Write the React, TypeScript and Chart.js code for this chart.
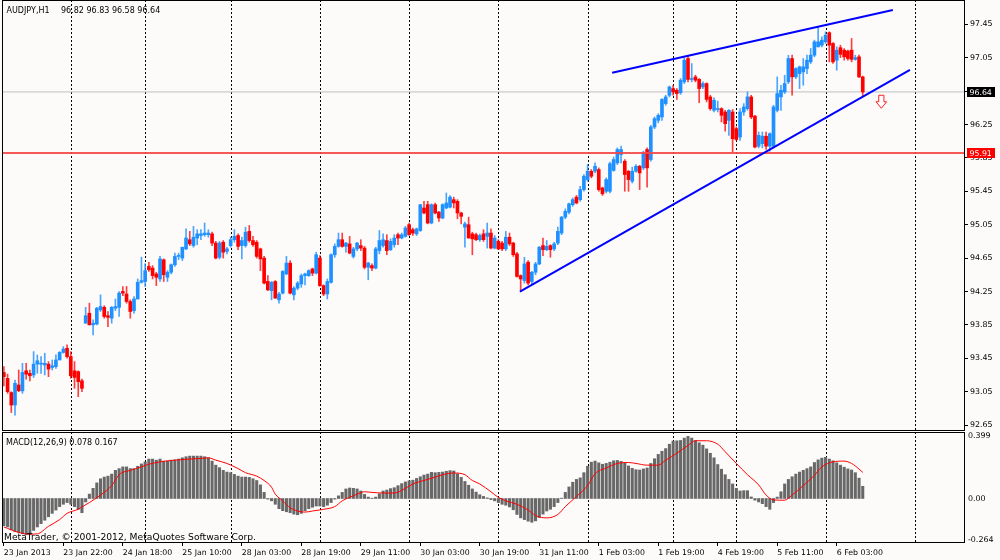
import React, { useEffect, useRef } from 'react';
import { Chart, registerables } from 'chart.js';
Chart.register(...registerables);

const symbolName = 'AUDJPY,H1';

const openP = [
93.28,93.21,93.04,92.89,93.13,93.06,93.30,93.27,93.25,93.38,
93.38,93.37,93.38,93.34,93.35,93.43,93.52,93.57,93.47,93.30,
93.29,93.18,93.87,93.99,93.85,93.86,94.03,94.06,93.96,93.93,
94.05,94.06,94.25,94.22,94.13,94.02,94.16,94.36,94.37,94.55,
94.53,94.46,94.40,94.63,94.42,94.48,94.57,94.67,94.65,94.76,
94.87,94.80,94.89,94.92,94.93,94.93,94.94,94.83,94.66,94.84,
94.73,94.80,94.87,94.92,94.80,94.80,94.97,94.86,94.84,94.76,
94.65,94.37,94.26,94.37,94.15,94.23,94.46,94.59,94.21,94.29,
94.34,94.44,94.44,94.52,94.47,94.65,94.32,94.22,94.36,94.69,
94.79,94.87,94.79,94.82,94.67,94.76,94.80,94.77,94.54,94.56,
94.53,94.74,94.80,94.86,94.75,94.81,94.93,94.89,94.91,95.05,
94.99,94.94,94.98,95.25,95.29,95.07,95.29,95.20,95.13,95.25,
95.26,95.35,95.33,95.19,95.02,95.05,94.94,94.93,94.87,94.94,
94.91,94.95,94.77,94.85,94.83,94.76,94.90,94.83,94.70,94.44,
94.38,94.60,94.37,94.48,94.58,94.80,94.75,94.80,94.76,94.83,
94.95,95.14,95.20,95.29,95.38,95.35,95.47,95.59,95.69,95.69,
95.71,95.49,95.45,95.45,95.70,95.79,95.89,95.81,95.69,95.57,
95.69,95.75,95.73,95.95,95.83,96.22,96.30,96.34,96.50,96.60,
96.68,96.66,96.63,96.76,97.04,96.79,96.82,96.79,96.70,96.74,
96.58,96.42,96.43,96.44,96.40,96.30,96.40,96.20,96.10,96.40,
96.44,96.58,96.35,95.99,96.02,96.11,95.99,95.99,96.42,96.58,
96.64,96.76,97.04,96.82,96.86,96.88,96.92,97.00,97.08,97.18,
97.20,97.24,97.35,97.22,97.02,97.17,97.14,97.13,97.14,97.03,
97.06,96.82
];

const highP = [
93.35,93.26,93.05,93.19,93.31,93.39,93.39,93.31,93.53,93.49,
93.47,93.51,93.41,93.43,93.49,93.53,93.59,93.61,93.53,93.41,
93.30,93.20,94.06,94.11,93.91,94.06,94.21,94.08,94.01,94.07,
94.16,94.25,94.31,94.31,94.15,94.19,94.40,94.66,94.58,94.60,
94.56,94.48,94.67,94.64,94.50,94.58,94.71,94.71,94.78,95.00,
94.97,95.03,94.99,94.99,95.07,94.99,94.96,94.85,94.85,94.86,
94.78,94.90,94.99,94.94,94.90,95.02,95.04,94.91,94.86,94.77,
94.67,94.44,94.37,94.38,94.24,94.50,94.67,94.62,94.31,94.37,
94.46,94.47,94.51,94.53,94.72,94.68,94.33,94.40,94.70,94.82,
94.95,94.95,94.84,94.91,94.78,94.84,94.87,94.79,94.60,94.58,
94.78,94.98,94.94,94.93,94.88,94.93,94.95,94.95,95.03,95.07,
95.01,95.01,95.29,95.33,95.33,95.30,95.31,95.21,95.30,95.43,
95.40,95.38,95.35,95.20,95.08,95.14,94.96,94.95,94.94,94.99,
95.07,95.00,94.92,94.87,94.85,94.97,94.95,94.84,94.72,94.45,
94.66,94.62,94.49,94.60,94.79,94.89,94.86,94.81,94.84,95.02,
95.15,95.24,95.31,95.37,95.40,95.51,95.65,95.77,95.71,95.79,
95.73,95.50,95.61,95.80,95.86,95.97,95.99,95.83,95.70,95.74,
95.77,95.76,95.93,95.97,96.24,96.34,96.38,96.56,96.60,96.71,
96.72,96.68,96.80,97.05,97.07,96.98,96.84,96.80,96.76,96.75,
96.60,96.57,96.53,96.45,96.42,96.43,96.43,96.22,96.44,96.50,
96.64,96.60,96.36,96.16,96.16,96.16,96.15,96.48,96.82,96.72,
96.84,97.08,97.08,96.93,96.95,97.04,97.08,97.16,97.26,97.42,
97.30,97.36,97.36,97.23,97.18,97.20,97.16,97.14,97.28,97.08,
97.08,96.83
];

const lowP = [
93.12,93.03,92.80,92.77,93.05,93.03,93.20,93.18,93.22,93.27,
93.27,93.25,93.23,93.31,93.33,93.43,93.51,93.45,93.21,93.09,
92.99,93.05,93.87,93.85,93.73,93.85,94.01,93.93,93.83,93.87,
94.02,93.95,94.20,94.11,93.93,93.99,94.16,94.35,94.31,94.49,
94.40,94.32,94.37,94.37,94.37,94.46,94.55,94.63,94.62,94.75,
94.80,94.78,94.81,94.87,94.91,94.90,94.80,94.64,94.64,94.65,
94.70,94.78,94.84,94.75,94.64,94.78,94.84,94.79,94.65,94.50,
94.34,94.26,94.15,94.17,94.11,94.22,94.45,94.22,94.15,94.27,
94.30,94.33,94.43,94.44,94.46,94.31,94.20,94.16,94.35,94.66,
94.78,94.78,94.72,94.70,94.65,94.74,94.74,94.52,94.39,94.50,
94.52,94.70,94.78,94.69,94.74,94.78,94.81,94.88,94.90,94.92,
94.92,94.92,94.97,95.18,95.06,95.06,95.18,95.09,95.12,95.24,
95.25,95.25,95.12,95.06,94.78,94.89,94.69,94.86,94.85,94.85,
94.77,94.76,94.76,94.75,94.74,94.74,94.80,94.67,94.42,94.25,
94.35,94.33,94.34,94.45,94.57,94.68,94.74,94.66,94.74,94.81,
94.93,95.12,95.18,95.27,95.30,95.33,95.45,95.57,95.61,95.67,
95.45,95.40,95.43,95.43,95.69,95.77,95.79,95.45,95.45,95.55,
95.68,95.47,95.71,95.50,95.81,96.20,96.27,96.30,96.48,96.58,
96.60,96.55,96.61,96.74,96.76,96.76,96.76,96.51,96.68,96.52,
96.42,96.40,96.40,96.28,96.17,96.12,95.92,96.06,96.06,96.36,
96.42,96.32,95.97,95.97,95.97,95.95,95.93,95.97,96.40,96.42,
96.62,96.74,96.60,96.80,96.68,96.72,96.86,96.98,97.06,97.18,
97.18,97.22,97.00,96.98,96.90,97.05,97.02,97.02,97.00,97.02,
96.81,96.58
];

const closeP = [
93.23,93.05,92.89,93.15,93.06,93.28,93.26,93.24,93.38,93.42,
93.39,93.39,93.32,93.36,93.43,93.52,93.56,93.47,93.24,93.22,
93.17,93.09,93.96,93.85,93.87,94.05,94.07,93.95,93.94,94.06,
94.07,94.23,94.23,94.13,94.01,94.16,94.36,94.38,94.50,94.51,
94.44,94.42,94.64,94.45,94.48,94.57,94.67,94.68,94.78,94.89,
94.82,94.90,94.94,94.94,94.95,94.95,94.83,94.65,94.83,94.72,
94.76,94.87,94.91,94.79,94.86,94.96,94.86,94.81,94.67,94.64,
94.35,94.27,94.36,94.17,94.22,94.49,94.59,94.23,94.29,94.35,
94.44,94.46,94.50,94.47,94.69,94.32,94.22,94.37,94.69,94.79,
94.87,94.79,94.83,94.71,94.76,94.83,94.77,94.54,94.59,94.53,
94.76,94.86,94.87,94.74,94.85,94.89,94.89,94.93,95.01,94.93,
94.95,95.00,95.29,95.19,95.07,95.29,95.19,95.13,95.29,95.31,
95.38,95.31,95.19,95.15,95.06,94.89,94.88,94.87,94.92,94.87,
94.95,94.77,94.89,94.76,94.76,94.90,94.82,94.69,94.43,94.40,
94.58,94.35,94.48,94.58,94.78,94.75,94.79,94.75,94.82,94.97,
95.14,95.21,95.30,95.35,95.31,95.47,95.63,95.69,95.63,95.75,
95.47,95.42,95.59,95.78,95.83,95.95,95.95,95.65,95.59,95.69,
95.75,95.67,95.91,95.73,96.22,96.32,96.36,96.55,96.58,96.70,
96.64,96.62,96.78,97.02,96.79,96.80,96.78,96.68,96.74,96.55,
96.44,96.54,96.44,96.36,96.26,96.42,96.08,96.07,96.40,96.46,
96.58,96.34,95.98,96.12,96.11,95.99,96.14,96.46,96.62,96.66,
96.74,97.04,96.82,96.92,96.94,96.94,97.02,97.08,97.24,97.24,
97.26,97.32,97.20,97.00,97.14,97.09,97.06,97.04,97.03,97.05,
96.82,96.64
];

const macdHist = [
-0.174,-0.182,-0.200,-0.211,-0.217,-0.226,-0.232,-0.232,-0.204,-0.182,
-0.161,-0.139,-0.117,-0.095,-0.074,-0.052,-0.037,-0.026,-0.037,-0.052,
-0.069,-0.091,-0.022,0.028,0.065,0.100,0.126,0.137,0.143,0.156,
0.180,0.191,0.202,0.202,0.191,0.191,0.206,0.221,0.234,0.252,
0.252,0.245,0.252,0.239,0.239,0.245,0.247,0.252,0.260,0.267,
0.271,0.271,0.271,0.271,0.267,0.260,0.239,0.213,0.197,0.180,
0.169,0.165,0.154,0.143,0.137,0.137,0.135,0.126,0.115,0.087,
0.039,-0.004,-0.015,-0.037,-0.065,-0.078,-0.085,-0.091,-0.100,-0.104,
-0.095,-0.078,-0.065,-0.056,-0.048,-0.048,-0.052,-0.043,-0.026,-0.004,
0.017,0.039,0.061,0.067,0.065,0.061,0.048,0.026,0.009,0.002,
0.009,0.030,0.048,0.054,0.063,0.069,0.082,0.095,0.106,0.113,
0.117,0.128,0.139,0.150,0.156,0.167,0.165,0.167,0.169,0.174,
0.178,0.176,0.158,0.135,0.109,0.085,0.061,0.041,0.024,0.013,
0.004,-0.007,-0.015,-0.026,-0.037,-0.043,-0.054,-0.072,-0.102,-0.124,
-0.135,-0.145,-0.152,-0.143,-0.122,-0.100,-0.080,-0.069,-0.052,-0.026,
0.002,0.039,0.074,0.104,0.122,0.132,0.165,0.206,0.232,0.239,
0.228,0.219,0.224,0.232,0.241,0.243,0.237,0.226,0.208,0.193,
0.184,0.182,0.189,0.195,0.224,0.254,0.282,0.302,0.319,0.347,
0.367,0.369,0.371,0.386,0.397,0.386,0.371,0.356,0.341,0.317,
0.289,0.260,0.217,0.187,0.152,0.122,0.093,0.065,0.048,0.050,
0.050,0.010,-0.011,-0.022,-0.033,-0.052,-0.069,-0.026,0.009,0.043,
0.093,0.122,0.139,0.156,0.169,0.180,0.191,0.202,0.230,0.247,
0.258,0.263,0.252,0.241,0.228,0.213,0.200,0.189,0.182,0.165,
0.130,0.078
];

const signalBars = [
0,4,7,9,12,15,17,20,21,23,26,29,31,34,37,39,42,45,47,50,
53,55,57,60,63,65,68,70,72,73,75,77,79,81,83,86,89,91,94,97,
99,102,105,108,110,113,116,118,121,124,126,128,131,133,135,138,141,143,146,149,
151,154,157,159,162,165,168,170,173,176,178,181,184,186,189,192,194,197,200,203,
205,207,210,212,215,218,220,223,226,228,229,231
];
const signalValues = [
-0.182,-0.217,-0.228,-0.226,-0.178,-0.135,-0.095,-0.069,-0.054,-0.026,0.022,0.082,0.152,0.180,0.202,0.219,0.234,0.243,0.247,0.252,
0.256,0.260,0.245,0.224,0.191,0.165,0.143,0.115,0.072,0.028,-0.015,-0.059,-0.080,-0.087,-0.080,-0.069,-0.052,-0.015,0.017,0.043,
0.039,0.035,0.035,0.065,0.093,0.115,0.137,0.152,0.163,0.152,0.115,0.093,0.043,0.007,-0.015,-0.037,-0.074,-0.109,-0.124,-0.102,
-0.052,0.013,0.082,0.158,0.195,0.224,0.230,0.224,0.213,0.213,0.245,0.289,0.339,0.369,0.369,0.347,0.299,0.224,0.152,0.087,
0.022,-0.009,-0.011,0.022,0.082,0.148,0.202,0.234,0.239,0.224,0.208,0.167
];

const timeLabelBars = [0, 16, 32, 48, 64, 80, 96, 112, 128, 144, 160, 176, 192, 208, 224];
const timeLabels = ['23 Jan 2013', '23 Jan 22:00', '24 Jan 18:00', '25 Jan 10:00', '28 Jan 03:00', '28 Jan 19:00', '29 Jan 11:00', '30 Jan 03:00', '30 Jan 19:00', '31 Jan 11:00', '1 Feb 03:00', '1 Feb 19:00', '4 Feb 19:00', '5 Feb 11:00', '6 Feb 03:00'];
const daySeparatorBars = [18, 38, 61, 85, 109, 133, 157, 180, 197, 221, 245];

const priceTicks = [97.45, 97.05, 96.65, 96.25, 95.85, 95.45, 95.05, 94.65, 94.25, 93.85, 93.45, 93.05, 92.65];
const macdTicks = [0.399, 0, -0.264];

// trend lines: [bar, price] endpoints
const lowerTrendBars = [138.8, 243.7];
const lowerTrendPrices = [94.248, 96.903];
const upperTrendBars = [163.6, 239.1];
const upperTrendPrices = [96.870, 97.621];
const resistanceLevel = 95.91;
const sellArrowBar = 236;
const sellArrowPrice = 96.60;

const X_MIN = -0.5;
const X_MAX = 258.5;
const PRICE_MIN = 92.579;
const PRICE_MAX = 97.741;
const MACD_MIN = -0.2845;
const MACD_MAX = 0.425;

const FONT = '"DejaVu Sans", sans-serif';
const BG = '#FDFBFA';

const separatorPlugin = {
  id: 'daySeparators',
  beforeDatasetsDraw(chart: any) {
    const { ctx, chartArea, scales } = chart;
    ctx.save();
    ctx.strokeStyle = '#000';
    ctx.lineWidth = 1;
    ctx.setLineDash([2, 2]);
    for (const b of daySeparatorBars) {
      const x = Math.round(scales.x.getPixelForValue(b)) + 0.5;
      ctx.beginPath();
      ctx.moveTo(x, chartArea.top);
      ctx.lineTo(x, chartArea.bottom);
      ctx.stroke();
    }
    ctx.restore();
  },
};

const framePlugin = {
  id: 'frame',
  afterDraw(chart: any) {
    const { ctx, chartArea } = chart;
    ctx.save();
    ctx.strokeStyle = '#000';
    ctx.lineWidth = 1;
    const l = Math.round(chartArea.left) + 0.5;
    const t = Math.round(chartArea.top) + 0.5;
    const r = Math.round(chartArea.right) - 0.5;
    const b = Math.round(chartArea.bottom) - 0.5;
    ctx.strokeRect(l, t, r - l, b - t);
    ctx.restore();
  },
};

const mainOverlay = {
  id: 'mainOverlay',
  afterDatasetsDraw(chart: any) {
    const { ctx, scales } = chart;
    const x = scales.x.getPixelForValue(sellArrowBar);
    const y = scales.y.getPixelForValue(sellArrowPrice);
    ctx.save();
    ctx.beginPath();
    ctx.moveTo(x - 2.6, y);
    ctx.lineTo(x + 2.6, y);
    ctx.lineTo(x + 2.6, y + 6.5);
    ctx.lineTo(x + 5.3, y + 6.5);
    ctx.lineTo(x, y + 13);
    ctx.lineTo(x - 5.3, y + 6.5);
    ctx.lineTo(x - 2.6, y + 6.5);
    ctx.closePath();
    ctx.fillStyle = '#FFFFFF';
    ctx.fill();
    ctx.strokeStyle = '#FF2020';
    ctx.lineWidth = 1;
    ctx.stroke();
    ctx.restore();
  },
  afterDraw(chart: any) {
    const { ctx, scales, chartArea } = chart;
    const last = closeP.length - 1;
    ctx.save();
    ctx.font = `8px ${FONT}`;
    ctx.fillStyle = '#000';
    ctx.textBaseline = 'alphabetic';
    ctx.textAlign = 'left';
    ctx.fillText(symbolName, 6.5, 12.5);
    ctx.fillText(
      `${openP[last].toFixed(2)} ${highP[last].toFixed(2)} ${lowP[last].toFixed(2)} ${closeP[last].toFixed(2)}`,
      61, 12.5
    );
    const box = (val: number, bg: string) => {
      const yy = scales.y.getPixelForValue(val);
      const bx = chartArea.right + 2;
      ctx.fillStyle = bg;
      ctx.fillRect(bx, Math.round(yy) - 5, 28, 10);
      ctx.fillStyle = '#FFFFFF';
      ctx.font = `7.8px ${FONT}`;
      ctx.textBaseline = 'middle';
      ctx.fillText(val.toFixed(2), bx + 2.5, Math.round(yy) + 0.5);
    };
    box(closeP[last], '#000000');
    box(resistanceLevel, '#FF0000');
    ctx.restore();
  },
};

const macdOverlay = {
  id: 'macdOverlay',
  afterDraw(chart: any) {
    const { ctx } = chart;
    const last = macdHist.length - 1;
    ctx.save();
    ctx.fillStyle = '#000';
    ctx.textAlign = 'left';
    ctx.textBaseline = 'alphabetic';
    ctx.font = `8px ${FONT}`;
    ctx.fillText(
      `MACD(12,26,9) ${macdHist[last].toFixed(3)} ${signalValues[signalValues.length - 1].toFixed(3)}`,
      6, 14
    );
    ctx.font = `9.2px ${FONT}`;
    ctx.fillText('MetaTrader, \u00A9 2001-2012, MetaQuotes Software Corp.', 4, 108.5);
    ctx.restore();
  },
};

function buildMainConfig(): any {
  const n = closeP.length;
  const up = closeP.map((c, i) => c >= openP[i]);
  const bodyColors = up.map((u) => (u ? '#1E90FF' : '#FF0000'));
  const wickColors = up.map((u) => (u ? 'rgba(30,144,255,0.8)' : 'rgba(255,0,0,0.75)'));
  const wicks = closeP.map((c, i) => ({
    x: i,
    y: [Math.min(lowP[i], openP[i], c), Math.max(highP[i], openP[i], c)],
  }));
  const bodies = closeP.map((c, i) => ({ x: i, y: [openP[i], c] }));
  return {
    type: 'bar',
    data: {
      datasets: [
        {
          type: 'line',
          data: [{ x: lowerTrendBars[0], y: lowerTrendPrices[0] }, { x: lowerTrendBars[1], y: lowerTrendPrices[1] }],
          borderColor: '#0000FF',
          borderWidth: 2,
          pointRadius: 0,
          order: 0,
        },
        {
          type: 'line',
          data: [{ x: upperTrendBars[0], y: upperTrendPrices[0] }, { x: upperTrendBars[1], y: upperTrendPrices[1] }],
          borderColor: '#0000FF',
          borderWidth: 2,
          pointRadius: 0,
          order: 0,
        },
        {
          type: 'line',
          data: [{ x: X_MIN, y: resistanceLevel }, { x: X_MAX, y: resistanceLevel }],
          borderColor: 'rgba(245,70,70,0.9)',
          borderWidth: 2,
          pointRadius: 0,
          order: 1,
        },
        {
          type: 'bar',
          data: bodies,
          backgroundColor: bodyColors,
          barThickness: 3,
          minBarLength: 1,
          grouped: false,
          order: 2,
        },
        {
          type: 'bar',
          data: wicks,
          backgroundColor: wickColors,
          barThickness: 1,
          grouped: false,
          order: 3,
        },
        {
          type: 'line',
          data: [{ x: X_MIN, y: closeP[n - 1] }, { x: X_MAX, y: closeP[n - 1] }],
          borderColor: '#C0C0C0',
          borderWidth: 1,
          pointRadius: 0,
          order: 4,
        },
      ],
    },
    options: {
      animation: false,
      responsive: false,
      events: [],
      layout: { padding: { left: 2, top: 0, right: 0, bottom: 1 } },
      plugins: { legend: { display: false }, tooltip: { enabled: false } },
      scales: {
        x: {
          type: 'linear',
          min: X_MIN,
          max: X_MAX,
          offset: false,
          display: false,
          afterFit: (s: any) => { s.height = 0; s.paddingLeft = 0; s.paddingRight = 0; },
        },
        y: {
          type: 'linear',
          position: 'right',
          min: PRICE_MIN,
          max: PRICE_MAX,
          beginAtZero: false,
          afterBuildTicks: (s: any) => { s.ticks = priceTicks.map((v) => ({ value: v })); },
          afterFit: (s: any) => { s.width = 35; s.paddingTop = 0; s.paddingBottom = 0; },
          ticks: {
            autoSkip: false,
            padding: 2,
            color: '#000',
            font: { family: FONT, size: 7.9 },
            callback: (v: any) => Number(v).toFixed(2),
          },
          grid: { display: true, drawOnChartArea: false, drawTicks: true, tickLength: 3, tickColor: '#000', tickWidth: 1 },
          border: { display: false },
        },
      },
    },
    plugins: [separatorPlugin, framePlugin, mainOverlay],
  };
}

function buildMacdConfig(): any {
  const hist = macdHist.map((v, i) => ({ x: i, y: v }));
  const sig = signalBars.map((b, k) => ({ x: b, y: signalValues[k] }));
  return {
    type: 'bar',
    data: {
      datasets: [
        {
          type: 'line',
          data: sig,
          borderColor: '#FF0000',
          borderWidth: 1,
          pointRadius: 0,
          cubicInterpolationMode: 'monotone',
          order: 0,
        },
        {
          type: 'bar',
          data: hist,
          backgroundColor: '#686868',
          barThickness: 2.4,
          grouped: false,
          order: 1,
        },
      ],
    },
    options: {
      animation: false,
      responsive: false,
      events: [],
      layout: { padding: { left: 2, top: 1, right: 0, bottom: 0 } },
      plugins: { legend: { display: false }, tooltip: { enabled: false } },
      scales: {
        x: {
          type: 'linear',
          min: X_MIN,
          max: X_MAX,
          offset: false,
          afterBuildTicks: (s: any) => { s.ticks = timeLabelBars.map((v) => ({ value: v })); },
          afterFit: (s: any) => { s.height = 17; s.paddingLeft = 0; s.paddingRight = 0; },
          ticks: {
            autoSkip: false,
            maxRotation: 0,
            minRotation: 0,
            align: 'start',
            padding: 2,
            color: '#000',
            font: { family: FONT, size: 7.8 },
            callback: (v: any) => {
              const k = timeLabelBars.indexOf(Math.round(Number(v)));
              return k >= 0 ? timeLabels[k] : '';
            },
          },
          grid: { display: true, drawOnChartArea: false, drawTicks: true, tickLength: 3, tickColor: '#000', offset: false },
          border: { display: false },
        },
        y: {
          type: 'linear',
          position: 'right',
          min: MACD_MIN,
          max: MACD_MAX,
          beginAtZero: false,
          afterBuildTicks: (s: any) => { s.ticks = macdTicks.map((v) => ({ value: v })); },
          afterFit: (s: any) => { s.width = 35; s.paddingTop = 0; s.paddingBottom = 0; },
          ticks: {
            autoSkip: false,
            padding: 3,
            color: '#000',
            font: { family: FONT, size: 7.9 },
            callback: (v: any) => (Number(v) === 0 ? '0.00' : Number(v).toFixed(3)),
          },
          grid: { display: false, drawTicks: false },
          border: { display: false },
        },
      },
    },
    plugins: [separatorPlugin, framePlugin, macdOverlay],
  };
}

export default function App() {
  const mainRef = useRef<HTMLCanvasElement>(null);
  const macdRef = useRef<HTMLCanvasElement>(null);
  useEffect(() => {
    const c1 = new Chart(mainRef.current as HTMLCanvasElement, buildMainConfig());
    const c2 = new Chart(macdRef.current as HTMLCanvasElement, buildMacdConfig());
    return () => {
      c1.destroy();
      c2.destroy();
    };
  }, []);
  return (
    <div style={{ position: 'absolute', left: 0, top: 0, width: 1000, height: 560, background: BG, overflow: 'hidden' }}>
      <canvas ref={mainRef} width={1000} height={432} style={{ position: 'absolute', left: 0, top: 0, width: 1000, height: 432 }} />
      <canvas ref={macdRef} width={1000} height={129} style={{ position: 'absolute', left: 0, top: 431, width: 1000, height: 129 }} />
    </div>
  );
}
